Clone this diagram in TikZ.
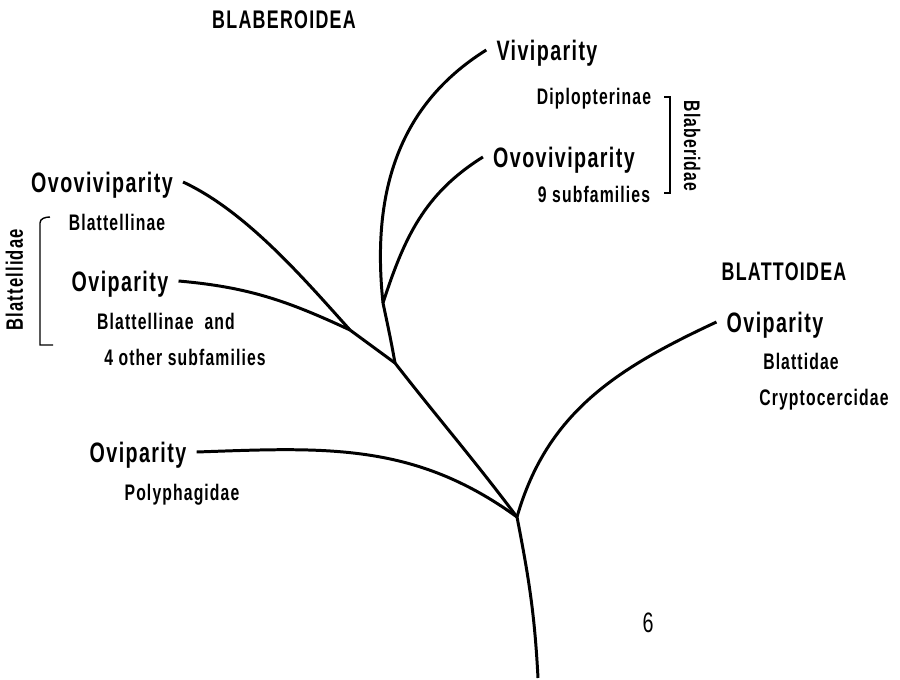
\documentclass[tikz,border=0pt]{standalone}
\usepackage{fontspec}
\setmainfont{Liberation Sans}[FakeStretch=0.7,LetterSpace=5]
\begin{document}
\begin{tikzpicture}[x=0.02cm,y=0.02cm,line width=1.7pt,
  big/.style={font=\bfseries\fontsize{16}{18}\selectfont,inner sep=5pt,text height=11.5pt,text depth=0pt},
  small/.style={font=\bfseries\fontsize{12.8}{14}\selectfont,inner sep=2pt,text height=9pt,text depth=0pt},
  head/.style={font=\bfseries\fontsize{14.5}{16}\selectfont,inner sep=2pt,text height=10.2pt,text depth=0pt},
  bracket/.style={line width=0.8pt}]
\useasboundingbox (0,0) rectangle (900,-680);
% branch points
\coordinate (root) at (538,-678);
\coordinate (d) at (517,-517);
\coordinate (b) at (395,-363);
\coordinate (a) at (350,-330);
\coordinate (c) at (383,-303);
% Blaberoidea
\node[head] (blaberoidea) at (284,-20) {BLABEROIDEA};
\node[big] (vivi) at (547,-50) {Viviparity};
\node[small] (dipl) at (594,-97) {Diplopterinae};
\node[big] (ovoviB) at (564,-157) {Ovoviviparity};
\node[small] (nine) at (594,-195) {9 subfamilies};
\node[small,rotate=-90] (blaberidae) at (692,-146) {Blaberidae};
\node[big] (ovoviL) at (102,-182) {Ovoviviparity};
\node[small] (blattellinae) at (117,-223) {Blattellinae};
\node[big] (oviL) at (120,-281) {Oviparity};
\node[small] (blattand) at (166,-322) {Blattellinae\ \ and};
\node[small] (other4) at (185,-358) {4 other subfamilies};
\node[small,font=\bfseries\fontsize{13.5}{15}\selectfont,rotate=90] (blattellidae) at (15,-280) {Blattellidae};
\node[big] (oviP) at (138,-452) {Oviparity};
\node[small] (polyph) at (182,-493) {Polyphagidae};
% Blattoidea
\node[head] (blattoidea) at (784,-272) {BLATTOIDEA};
\node[big] (oviR) at (775,-322) {Oviparity};
\node[small] (blattidae) at (801,-362) {Blattidae};
\node[small] (crypto) at (824,-398) {Cryptocercidae};
\node[big,font=\fontsize{16}{18}\selectfont] (six) at (648,-622) {6};
% tree
\draw (root) to[out=93,in=-79] (d) to[out=127,in=-52] (b) -- (a);
\draw (b) to[out=100,in=-78] (c);
\draw (c) to[out=96,in=-148] (vivi.west);
\draw (c) to[out=72,in=-148] (ovoviB.west);
\draw (ovoviL.east) to[out=-25,in=132,looseness=0.8] (a);
\draw (oviL.east) to[out=-5,in=155] (a);
\draw (oviP.east) to[out=2,in=144] (d);
\draw (oviR.west) to[out=-155,in=74] (d);
% family brackets
\draw[bracket] (664,-97) -- (670,-97) -- (670,-193) -- (664,-193);
\draw[bracket] (50,-217) to[out=180,in=90] (40,-223) -- (40,-345) -- (53,-345);
\end{tikzpicture}
\end{document}
